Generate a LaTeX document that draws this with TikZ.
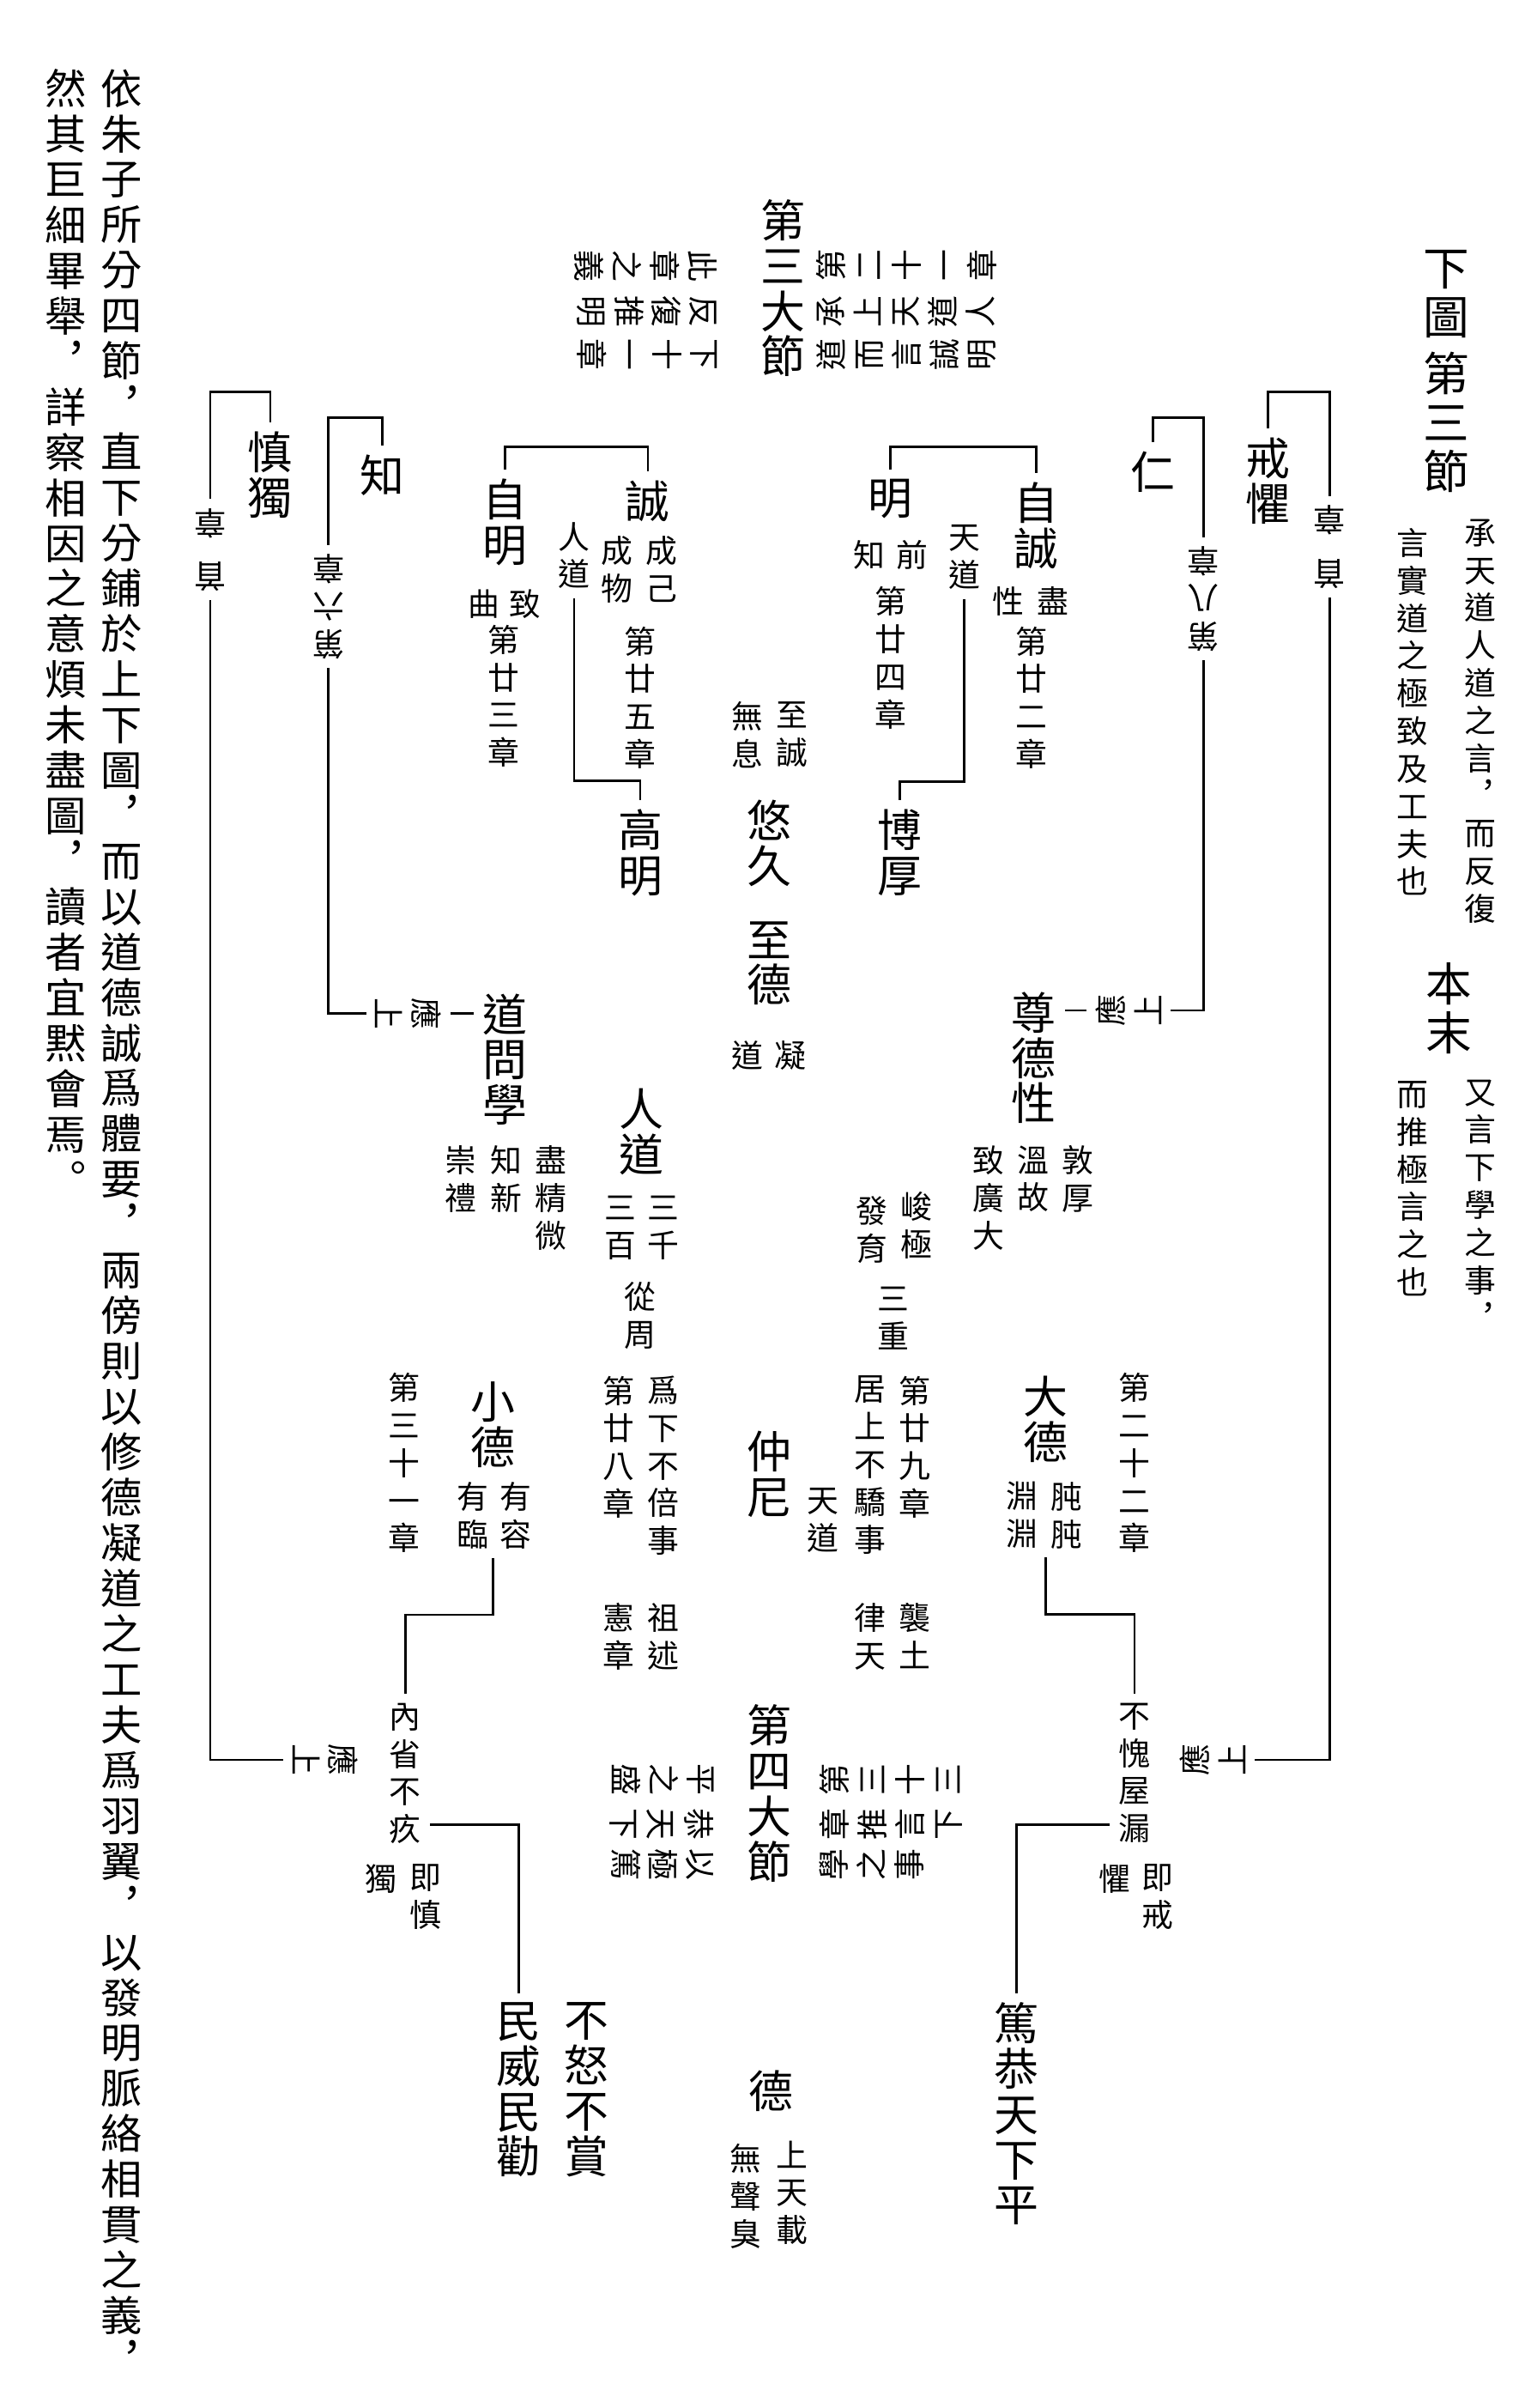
\documentclass[tikz,border=0pt]{standalone}
\usepackage{fontspec}
\setmainfont{Noto Sans CJK TC}
\usetikzlibrary{calc}

\ExplSyntaxOn
\NewDocumentCommand{\vt}{m}
  {
    \seq_clear:N \l_tmpa_seq
    \tl_map_inline:nn {#1} { \seq_put_right:Nn \l_tmpa_seq {##1} }
    \seq_use:Nn \l_tmpa_seq { \\ }
  }
\ExplSyntaxOff

\begin{document}
\begin{tikzpicture}[x=0.5pt,y=0.5pt,yscale=-1,xscale=1,
  big/.style={font=\fontsize{14.5pt}{14.75pt}\selectfont,inner sep=0pt,outer sep=3pt,align=center},
  head/.style={font=\fontsize{15pt}{16pt}\selectfont,inner sep=0pt,outer sep=3pt,align=center},
  sml/.style={font=\fontsize{10.3pt}{12.25pt}\selectfont,inner sep=0pt,outer sep=3pt,align=center},
  gapped/.style={font=\fontsize{10.3pt}{17.5pt}\selectfont,inner sep=0pt,outer sep=3pt,align=center},
  side/.style={font=\fontsize{13.5pt}{14.8pt}\selectfont,inner sep=0pt,outer sep=3pt,align=center},
  link/.style={line width=0.75pt}]
\fill[white] (0,0) rectangle (993,1568);
\useasboundingbox (0,0) rectangle (993,1568);

\node[side,anchor=north] (noteA) at (79,39) {\vt{依朱子所分四節︐直下分鋪於上下圖︐而以道德誠爲體要︐兩傍則以修德凝道之工夫爲羽翼︐以發明脈絡相貫之義︐}};
\node[side,anchor=north] (noteB) at (43,39) {\vt{然其巨細畢舉︐詳察相因之意煩未盡圖︐讀者宜黙會焉︒}};

\node[head,anchor=north] (xiatu) at (942,157) {\vt{下圖}};
\node[head,anchor=north] (disanjie) at (942,223) {\vt{第三節}};
\node[sml,anchor=north] (chengtian) at (964,332) {\vt{承天道人道之言︐而反復}};
\node[sml,anchor=north] (yanshi) at (920,338) {\vt{言實道之極致及工夫也}};
\node[head,anchor=north] (benmo) at (944,621) {\vt{本末}};
\node[sml,anchor=north] (youyan) at (964,697) {\vt{又言下學之事︐}};
\node[sml,anchor=north] (ertui) at (920,698) {\vt{而推極言之也}};

\node[big,anchor=north] (disan) at (510,124) {\vt{第三大節}};
\node[sml,anchor=north,rotate=-90] (lrowA) at (473,173) {\vt{此章之義}};
\node[sml,anchor=north,rotate=-90] (lrowB) at (473,203) {\vt{反復推明}};
\node[sml,anchor=north,rotate=-90] (lrowC) at (473,231) {\vt{下十一章}};
\node[sml,anchor=north,rotate=90] (rrowA) at (526,173) {\vt{第二十一章}};
\node[sml,anchor=north,rotate=90] (rrowB) at (526,203) {\vt{承上天道人}};
\node[sml,anchor=north,rotate=90] (rrowC) at (526,231) {\vt{道而言誠明}};

\node[big,anchor=north] (shendu) at (176,275) {\vt{慎獨}};
\node[big,anchor=north] (zhi) at (249,290) {\vt{知}};
\node[big,anchor=north] (ziming) at (329,306) {\vt{自明}};
\node[big,anchor=north] (cheng) at (422,307) {\vt{誠}};
\node[big,anchor=north] (ming) at (580,306) {\vt{明}};
\node[big,anchor=north] (zicheng) at (675,308) {\vt{自誠}};
\node[big,anchor=north] (ren) at (751,288) {\vt{仁}};
\node[big,anchor=north] (jieju) at (826,279) {\vt{戒懼}};

\node[gapped,rotate=180] (shouL) at (137,358) {\vt{首章}};
\node[gapped,rotate=180] (shouR) at (866,356) {\vt{首章}};
\node[sml,rotate=180] (diliu) at (214,395) {\vt{第六章}};
\node[sml,rotate=180] (diba) at (784,390) {\vt{第八章}};

\node[sml,anchor=north] (zhiqu) at (342,378) {\vt{致}};
\node[sml,anchor=north] (qu) at (315,378) {\vt{曲}};
\node[sml,anchor=north] (di23) at (328,401) {\vt{第廿三章}};
\node[sml,anchor=north] (rendaoS) at (374,334) {\vt{人道}};
\node[sml,anchor=north] (chengwu) at (402,343) {\vt{成物}};
\node[sml,anchor=north] (chengji) at (431,343) {\vt{成己}};
\node[sml,anchor=north] (di25) at (417,402) {\vt{第廿五章}};
\node[sml,anchor=north] (qian) at (594,346) {\vt{前}};
\node[sml,anchor=north] (qianzhi) at (566,346) {\vt{知}};
\node[sml,anchor=north] (di24) at (580,376) {\vt{第廿四章}};
\node[sml,anchor=north] (tiandaoS) at (628,336) {\vt{天道}};
\node[sml,anchor=north] (jin) at (686,376) {\vt{盡}};
\node[sml,anchor=north] (xing) at (657,376) {\vt{性}};
\node[sml,anchor=north] (di22) at (672,402) {\vt{第廿二章}};

\node[sml,anchor=north] (zhicheng) at (516,451) {\vt{至誠}};
\node[sml,anchor=north] (wuxi) at (487,451) {\vt{無息}};
\node[big,anchor=north] (gaoming) at (417,521) {\vt{高明}};
\node[big,anchor=north] (youjiu) at (501,515) {\vt{悠久}};
\node[big,anchor=north] (bohou) at (586,521) {\vt{博厚}};
\node[big,anchor=north] (zhide) at (501,594) {\vt{至德}};
\node[sml,anchor=north] (ning) at (515,672) {\vt{凝}};
\node[sml,anchor=north] (ningdao) at (487,672) {\vt{道}};

\node[sml,rotate=-90] (yingM) at (266,660) {\vt{應上}};
\node[big,anchor=north] (daowenxue) at (329,641) {\vt{道問學}};
\node[sml,rotate=90] (yingR) at (735,658) {\vt{應上}};
\node[big,anchor=north] (zundexing) at (673,640) {\vt{尊德性}};

\node[sml,anchor=north] (jingwei) at (359,740) {\vt{盡精微}};
\node[sml,anchor=north] (zhixin) at (330,740) {\vt{知新}};
\node[sml,anchor=north] (chongli) at (300,740) {\vt{崇禮}};
\node[sml,anchor=north] (dunhou) at (702,740) {\vt{敦厚}};
\node[sml,anchor=north] (wengu) at (673,740) {\vt{溫故}};
\node[sml,anchor=north] (guangda) at (644,740) {\vt{致廣大}};

\node[big,anchor=north] (rendaoB) at (418,703) {\vt{人道}};
\node[sml,anchor=north] (sanqian) at (432,773) {\vt{三千}};
\node[sml,anchor=north] (sanbai) at (404,773) {\vt{三百}};
\node[sml,anchor=north] (congzhou) at (417,829) {\vt{從周}};
\node[sml,anchor=north] (junji) at (597,770) {\vt{峻極}};
\node[sml,anchor=north] (fayu) at (568,773) {\vt{發育}};
\node[sml,anchor=north] (sanzhong) at (582,832) {\vt{三重}};

\node[sml,anchor=north] (weixia) at (432,890) {\vt{爲下不倍事}};
\node[sml,anchor=north] (di28) at (403,890) {\vt{第廿八章}};
\node[sml,anchor=north] (zushu) at (432,1038) {\vt{祖述}};
\node[sml,anchor=north] (xianzhang) at (403,1038) {\vt{憲章}};
\node[big,anchor=north] (zhongni) at (501,926) {\vt{仲尼}};
\node[sml,anchor=north] (tiandaoM) at (536,963) {\vt{天道}};
\node[sml,anchor=north] (jushang) at (567,890) {\vt{居上不驕事}};
\node[sml,anchor=north] (di29) at (596,890) {\vt{第廿九章}};
\node[sml,anchor=north] (lvtian) at (567,1038) {\vt{律天}};
\node[sml,anchor=north] (xitu) at (596,1038) {\vt{襲土}};

\node[big,anchor=north] (xiaode) at (321,894) {\vt{小德}};
\node[sml,anchor=north] (di31) at (263,888) {\vt{第三十一章}};
\node[sml,anchor=north] (yourong) at (336,959) {\vt{有容}};
\node[sml,anchor=north] (youlin) at (308,959) {\vt{有臨}};
\node[big,anchor=north] (dade) at (681,890) {\vt{大德}};
\node[sml,anchor=north] (zhunzhun) at (695,959) {\vt{肫肫}};
\node[sml,anchor=north] (yuanyuan) at (666,959) {\vt{淵淵}};
\node[sml,anchor=north] (di22b) at (739,888) {\vt{第二十二章}};

\node[big,anchor=north] (disi) at (501,1104) {\vt{第四大節}};
\node[sml,anchor=north,rotate=-90] (lrowD) at (471,1159) {\vt{平之盛}};
\node[sml,anchor=north,rotate=-90] (lrowE) at (471,1188) {\vt{恭天下}};
\node[sml,anchor=north,rotate=-90] (lrowF) at (471,1214) {\vt{以極篤}};
\node[sml,anchor=north,rotate=90] (rrowD) at (528,1159) {\vt{第三十三}};
\node[sml,anchor=north,rotate=90] (rrowE) at (528,1188) {\vt{章推言下}};
\node[sml,anchor=north,rotate=90] (rrowF) at (528,1214) {\vt{學之事}};

\node[sml,anchor=north] (neixing) at (264,1103) {\vt{內省不疚}};
\node[sml,anchor=north] (jishen) at (277,1208) {\vt{即慎}};
\node[sml,anchor=north] (shendu2) at (248,1208) {\vt{獨}};
\node[sml,anchor=north] (bukui) at (739,1103) {\vt{不愧屋漏}};
\node[sml,anchor=north] (jijie) at (754,1208) {\vt{即戒}};
\node[sml,anchor=north] (jieju2) at (726,1208) {\vt{懼}};
\node[sml,rotate=-90] (yingBL) at (212,1146) {\vt{應上}};
\node[sml,rotate=90] (yingBR) at (790,1146) {\vt{應上}};

\node[big,anchor=north] (minwei) at (338,1298) {\vt{民威民勸}};
\node[big,anchor=north] (bunu) at (382,1298) {\vt{不怒不賞}};
\node[big,anchor=north] (de) at (502,1342) {\vt{德}};
\node[sml,anchor=north] (shangtian) at (516,1388) {\vt{上天載}};
\node[sml,anchor=north] (wusheng) at (486,1390) {\vt{無聲臭}};
\node[big,anchor=north] (dugong) at (662,1298) {\vt{篤恭天下平}};

\draw[link] (shendu.north) -- ++(0,-20) -| (shouL);
\draw[link] (shouL) |- (yingBL);
\draw[link] (zhi.north) -- ++(0,-18) -| (diliu);
\draw[link] (diliu) |- (yingM);
\draw[link] (yingM) -- (yingM -| daowenxue.west);
\draw[link] (ziming.north) -- ++(0,-15) -| (cheng.north);
\draw[link] (ming.north) -- ++(0,-15) -| (zicheng.north);
\draw[link] (ren.north) -- ++(0,-16) -| (diba);
\draw[link] (diba) |- (yingR);
\draw[link] (yingR) -- (yingR -| zundexing.east);
\draw[link] (jieju.north) -- ++(0,-24) -| (shouR);
\draw[link] (shouR) |- (yingBR);
\draw[link] (rendaoS.south) -- ++(0,119) -| (gaoming.north);
\draw[link] (tiandaoS.south) -- ++(0,119) -| (bohou.north);
\draw[link] (xiaode |- youlin.south) -- ++(0,37) -| (neixing.north);
\draw[link] (dade |- yuanyuan.south) -- ++(0,37) -| (bukui.north);
\draw[link] ($(neixing.north east)+(0,85)$) -| (minwei.north);
\draw[link] ($(bukui.north west)+(0,85)$) -| (dugong.north);
\end{tikzpicture}
\end{document}
